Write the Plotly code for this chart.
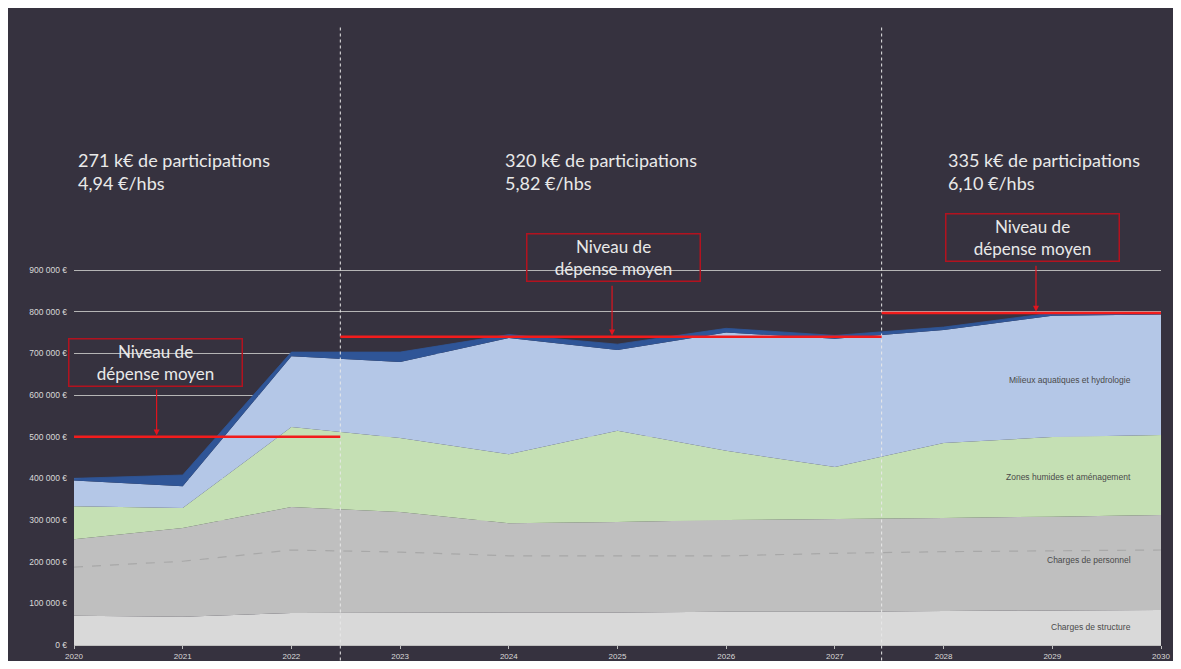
import plotly.graph_objects as go

years = [2020, 2021, 2022, 2023, 2024, 2025, 2026, 2027, 2028, 2029, 2030]

charges_structure = [70000, 68000, 77000, 78000, 78000, 78000, 80000, 80000, 82000, 83000, 84000]
charges_personnel = [184000, 213000, 254000, 241000, 214000, 217000, 220000, 222000, 223000, 225000, 228000]
zones_humides = [79000, 48000, 192000, 178000, 166000, 219000, 166000, 125000, 180000, 191000, 192000]
milieux_aquatiques = [62000, 52000, 170000, 182000, 279000, 194000, 284000, 308000, 271000, 291000, 289000]
autres = [5000, 27000, 10000, 24000, 8000, 14000, 10000, 8000, 7000, 7000, 4000]
personnel_split = [187000, 201000, 228000, 223000, 214000, 214000, 214000, 220000, 224000, 226000, 228000]

period_bounds = [2020, 2022.45, 2027.43, 2030]
moyennes = [500000, 740000, 797000]
period_titles = ["271 k€ de participations<br>4,94 €/hbs",
                 "320 k€ de participations<br>5,82 €/hbs",
                 "335 k€ de participations<br>6,10 €/hbs"]

y_ticks = [0, 100000, 200000, 300000, 400000, 500000, 600000, 700000, 800000, 900000]
y_labels = ["0 €", "100 000 €", "200 000 €", "300 000 €", "400 000 €", "500 000 €",
            "600 000 €", "700 000 €", "800 000 €", "900 000 €"]

series = [
    ("Charges de structure", charges_structure, "#d9d9d9"),
    ("Charges de personnel", charges_personnel, "#bfbfbf"),
    ("Zones humides et aménagement", zones_humides, "#c5e0b4"),
    ("Milieux aquatiques et hydrologie", milieux_aquatiques, "#b4c7e7"),
    ("Autres", autres, "#2f5597"),
]

BG = "#36323f"
fig = go.Figure()
for name, vals, col in series:
    fig.add_trace(go.Scatter(
        x=years, y=vals, name=name, stackgroup="one", mode="lines",
        line=dict(width=0.8 if name == "Autres" else 0, color=col),
        fillcolor=col, showlegend=False, hoverinfo="skip"))

fig.add_trace(go.Scatter(x=years, y=personnel_split, mode="lines",
                         line=dict(color="#a8a8a8", width=1.2, dash="dash"),
                         showlegend=False, hoverinfo="skip"))

shapes = []
for xb in period_bounds[1:3]:
    shapes.append(dict(type="line", xref="x", yref="paper", x0=xb, x1=xb, y0=-0.025, y1=1.0,
                       line=dict(color="#e8e8e8", width=1, dash="dot")))
for i, m in enumerate(moyennes):
    x0 = period_bounds[i] - (0.06 if i == 0 else 0)
    shapes.append(dict(type="line", xref="x", yref="y", x0=x0, x1=period_bounds[i + 1], y0=m, y1=m,
                       line=dict(color="#f21c1c", width=2.5)))

annotations = []
title_x = [2020.02, 2023.95, 2028.02]
for tx, tt in zip(title_x, period_titles):
    annotations.append(dict(x=tx, y=1195000, xref="x", yref="y", text=tt, showarrow=False,
                            xanchor="left", yanchor="top", align="left",
                            font=dict(family="Lato", size=18, color="#e9e9e9")))
box_pos = [(2020.75, 679000), (2024.96, 929000), (2028.82, 977000)]
for bx, by in box_pos:
    annotations.append(dict(x=bx, y=by, xref="x", yref="y", text="Niveau de<br>dépense moyen",
                            showarrow=False, xanchor="center", yanchor="middle", align="center",
                            width=170, height=44, bordercolor="#b3121f", borderwidth=1.5,
                            font=dict(family="Lato", size=17, color="#e9e9e9")))
arrows = [(2020.76, 617000, 503000), (2024.95, 866000, 743000), (2028.85, 914000, 800000)]
for axx, ystart, yend in arrows:
    annotations.append(dict(x=axx, y=yend, ax=axx, ay=ystart, xref="x", yref="y", axref="x", ayref="y",
                            text="", showarrow=True, arrowhead=2, arrowsize=1, arrowwidth=1.2,
                            arrowcolor="#e0141e"))
labels = [("Milieux aquatiques et hydrologie", 636000), ("Zones humides et aménagement", 403000),
          ("Charges de personnel", 204000), ("Charges de structure", 43000)]
for txt, yy in labels:
    annotations.append(dict(x=2029.74, y=yy, xref="x", yref="y", text=txt, showarrow=False,
                            xanchor="right", yanchor="middle",
                            font=dict(family="Liberation Sans", size=8.5, color="#4a4a4a")))

fig.update_layout(
    width=1165, height=653,
    margin=dict(l=66, r=12, t=17, b=16, autoexpand=False),
    paper_bgcolor=BG, plot_bgcolor=BG,
    shapes=shapes, annotations=annotations,
    font=dict(family="Lato", color="#d9d9d9"),
    xaxis=dict(range=[2020, 2030], tickvals=years, ticktext=[str(y) for y in years],
               automargin=False,
               showgrid=False, zeroline=False, showline=True, linecolor="#bfbfbf", linewidth=1,
               ticks="outside", ticklen=3, tickcolor="#bfbfbf", ticklabeloverflow="allow",
               tickfont=dict(size=8, color="#d9d9d9", family="Liberation Sans")),
    yaxis=dict(range=[0, 1488000], tickvals=y_ticks, ticktext=y_labels,
               automargin=False,
               showgrid=True, gridcolor="#b5b5b5", gridwidth=1, zeroline=False,
               ticklabelstandoff=6,
               tickfont=dict(size=8.5, color="#d9d9d9", family="Liberation Sans")),
)

fig.write_html("out.html")
